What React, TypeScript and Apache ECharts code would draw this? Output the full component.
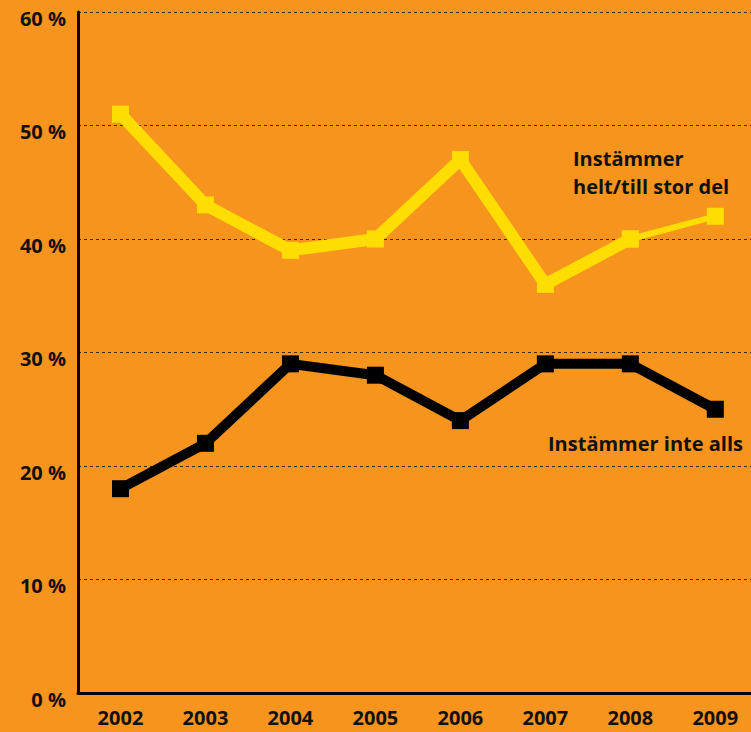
import React, { useEffect, useRef } from "react";
import * as echarts from "echarts";

const years = ["2002", "2003", "2004", "2005", "2006", "2007", "2008", "2009"];
const agreeValues = [51, 43, 39, 40, 47, 36, 40, 42];
const disagreeValues = [18, 22, 29, 28, 24, 29, 29, 25];
const yTicks = [0, 10, 20, 30, 40, 50, 60];

export default function App() {
  const ref = useRef<HTMLDivElement>(null);
  useEffect(() => {
    if (!ref.current) return;
    const chart = echarts.init(ref.current, null, { renderer: "svg" });
    const n = agreeValues.length;
    const agreeThick = agreeValues.map((v, i) => [i, i < n - 1 ? v : "-"]);
    const agreeThin = agreeValues.map((v, i) => [i, i >= n - 2 ? v : "-"]);
    const disagree = disagreeValues.map((v, i) => [i, v]);
    const font = "'Open Sans', sans-serif";
    chart.setOption({
      animation: false,
      backgroundColor: "#F7941E",
      grid: { left: 78, top: 12, right: 0, bottom: 39, containLabel: false },
      xAxis: {
        type: "value",
        min: -0.5,
        max: 7.42,
        interval: 0.5,
        axisLine: { show: true, onZero: false, lineStyle: { color: "#000", width: 3 } },
        axisTick: { show: false },
        axisLabel: {
          color: "#111",
          fontSize: 20,
          fontWeight: "bold",
          fontFamily: font,
          margin: 14,
          showMinLabel: false,
          showMaxLabel: false,
          formatter: (v: number) => (Number.isInteger(v) && v >= 0 && v < years.length ? years[v] : ""),
        },
        splitLine: { show: false },
      },
      yAxis: {
        type: "value",
        min: yTicks[0],
        max: yTicks[yTicks.length - 1],
        interval: 10,
        axisLine: { show: true, onZero: false, lineStyle: { color: "#000", width: 3 } },
        axisTick: { show: false },
        axisLabel: {
          color: "#111",
          fontSize: 20,
          fontWeight: "bold",
          fontFamily: font,
          margin: 12,
          verticalAlign: "top",
          lineHeight: 12,
          formatter: (v: number) => v + " %",
        },
        splitLine: { show: true, lineStyle: { color: "#3a2a10", width: 1, type: [3, 3] } },
      },
      series: [
        {
          type: "line",
          data: agreeThick,
          lineStyle: { color: "#FFDD00", width: 12 },
          itemStyle: { color: "#FFDD00" },
          symbol: "rect",
          symbolSize: 17,
          showSymbol: true,
          z: 3,
        },
        {
          type: "line",
          data: agreeThin,
          lineStyle: { color: "#FFDD00", width: 6 },
          itemStyle: { color: "#FFDD00" },
          symbol: "rect",
          symbolSize: 17,
          showSymbol: true,
          z: 3,
        },
        {
          type: "line",
          data: disagree,
          lineStyle: { color: "#000", width: 10 },
          itemStyle: { color: "#000" },
          symbol: "rect",
          symbolSize: 17,
          showSymbol: true,
          z: 3,
        },
      ],
      graphic: [
        {
          type: "text",
          left: 573,
          top: 144,
          style: {
            text: "Instämmer\nhelt/till stor del",
            fill: "#111",
            font: "bold 20px 'Open Sans', sans-serif",
            lineHeight: 28,
          },
        },
        {
          type: "text",
          left: 548,
          top: 433,
          style: {
            text: "Instämmer inte alls",
            fill: "#111",
            font: "bold 20px 'Open Sans', sans-serif",
          },
        },
      ],
    });
    return () => chart.dispose();
  }, []);
  return (
    <div
      ref={ref}
      style={{ position: "fixed", left: 0, top: 0, width: 751, height: 732, overflow: "hidden" }}
    />
  );
}
